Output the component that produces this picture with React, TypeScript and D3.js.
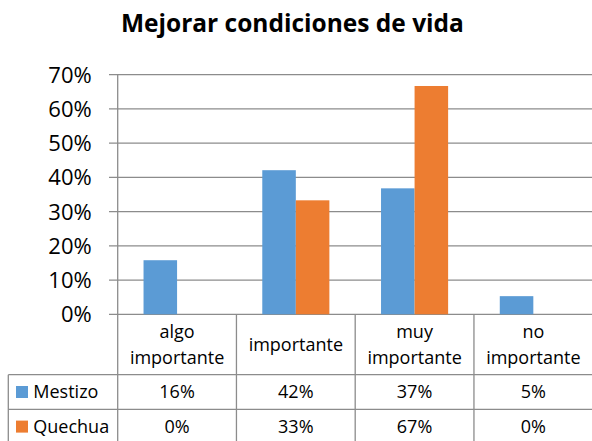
import * as d3 from "d3";

const title = "Mejorar condiciones de vida";
const categories = ["algo importante", "importante", "muy importante", "no importante"];
const seriesNames = ["Mestizo", "Quechua"];
const mestizo = [0.158, 0.421, 0.368, 0.053];
const quechua = [0, 0.333, 0.667, 0];
const yTicks = [0, 0.1, 0.2, 0.3, 0.4, 0.5, 0.6, 0.7];
const colors = ["#5B9BD5", "#ED7D31"];

const width = 592;
const height = 441;
const plot = { left: 117.7, right: 592.7, top: 74.7, bottom: 314.3 };
const table = { left: 8.3, headerBottom: 374.7, rowH: 34.6 };
const font = "'Open Sans', sans-serif";
const gridColor = "#8c8c8c";

export default function App() {
  const values = [mestizo, quechua];
  const pct = d3.format(".0%");

  const x = d3.scaleBand<string>().domain(categories).range([plot.left, plot.right]).padding(0);
  const xs = d3
    .scaleBand<string>()
    .domain(seriesNames)
    .range([0, x.bandwidth()])
    .paddingInner(0)
    .paddingOuter(0.77);
  const y = d3.scaleLinear().domain([0, 0.7]).range([plot.bottom, plot.top]);

  const rowTop = (i: number) => table.headerBottom + i * table.rowH;
  const tableBottom = rowTop(seriesNames.length);
  const colEdges = [...categories.map(c => x(c) ?? 0), plot.right];

  return (
    <svg
      width={width}
      height={height}
      style={{ position: "absolute", left: 0, top: 0, background: "#fff" }}
      fontFamily={font}
    >
      <text x={292.4} y={32.3} textAnchor="middle" fontSize={24.5} fontWeight={700} fill="#000">
        {title}
      </text>

      {/* gridlines + y labels */}
      {yTicks.map(t => (
        <g key={t}>
          <line x1={109} x2={plot.right} y1={y(t)} y2={y(t)} stroke={gridColor} strokeWidth={1.3} />
          <text x={91.7} y={y(t)} dy="0.36em" textAnchor="end" fontSize={22} fill="#000">
            {pct(t)}
          </text>
        </g>
      ))}
      <line x1={plot.left} x2={plot.left} y1={plot.top} y2={plot.bottom} stroke={gridColor} strokeWidth={1.3} />

      {/* bars */}
      {seriesNames.map((s, si) =>
        categories.map((c, ci) => {
          const v = values[si][ci];
          return (
            <rect
              key={s + c}
              x={(x(c) ?? 0) + (xs(s) ?? 0)}
              y={y(v)}
              width={xs.bandwidth()}
              height={y(0) - y(v)}
              fill={colors[si]}
            />
          );
        })
      )}

      {/* data table */}
      <g stroke={gridColor} strokeWidth={1.3}>
        {colEdges.map((cx, i) => (
          <line key={i} x1={cx} x2={cx} y1={plot.bottom} y2={tableBottom} />
        ))}
        <line x1={table.left} x2={table.left} y1={table.headerBottom} y2={tableBottom} />
        {d3.range(seriesNames.length + 1).map(i => (
          <line key={i} x1={table.left} x2={plot.right} y1={rowTop(i)} y2={rowTop(i)} />
        ))}
      </g>

      {categories.map(c => {
        const sp = c.indexOf(" ");
        const lines = sp > 0 ? [c.slice(0, sp), c.slice(sp + 1)] : [c];
        const cx = (x(c) ?? 0) + x.bandwidth() / 2;
        const mid = (plot.bottom + table.headerBottom) / 2;
        const lh = 26;
        return (
          <text key={c} textAnchor="middle" fontSize={18} fill="#000">
            {lines.map((l, i) => (
              <tspan key={i} x={cx} y={mid + (i - (lines.length - 1) / 2) * lh} dy="0.36em">
                {l}
              </tspan>
            ))}
          </text>
        );
      })}

      {seriesNames.map((s, si) => {
        const cy = rowTop(si) + table.rowH / 2;
        return (
          <g key={s}>
            <rect x={16} y={cy - 6} width={12} height={12} fill={colors[si]} />
            <text x={33.3} y={cy} dy="0.36em" fontSize={18} fill="#000">
              {s}
            </text>
            {categories.map((c, ci) => (
              <text
                key={c}
                x={(x(c) ?? 0) + x.bandwidth() / 2}
                y={cy}
                dy="0.36em"
                textAnchor="middle"
                fontSize={18}
                fill="#000"
              >
                {pct(values[si][ci])}
              </text>
            ))}
          </g>
        );
      })}
    </svg>
  );
}
